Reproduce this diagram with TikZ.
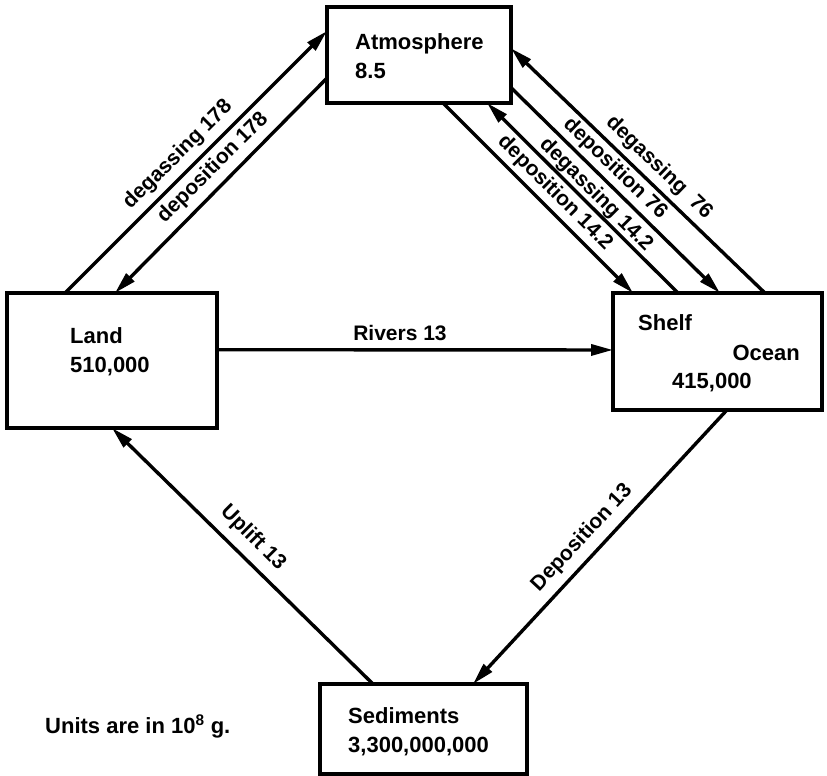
\documentclass[tikz,border=0pt]{standalone}
\usepackage{fontspec}
\setmainfont{Liberation Sans}
\usetikzlibrary{arrows.meta,calc}
\begin{document}
\begin{tikzpicture}[x=1pt,y=-1pt,
  box/.style={draw, line width=3.2pt, inner sep=0pt, outer sep=0pt, anchor=north west},
  arr/.style={line width=3.4pt, -{Triangle[length=22pt,width=11pt]}},
  txt/.style={font=\fontsize{22}{24}\selectfont\bfseries, inner sep=0pt, anchor=base west},
  lbl/.style={font=\fontsize{21}{23}\selectfont\bfseries, inner sep=0pt}]
\useasboundingbox (0,0) rectangle (827,776);
% boxes
\node[box, minimum width=184pt, minimum height=96pt] (atm) at (327,7) {};
\node[box, minimum width=210pt, minimum height=135pt] (land) at (7,293) {};
\node[box, minimum width=209pt, minimum height=117pt] (ocean) at (613,293) {};
\node[box, minimum width=207pt, minimum height=90pt] (sed) at (320,684) {};
% box texts
\node[txt] (atmA) at (355,50) {Atmosphere};
\node[txt] (atmB) at (355,78) {8.5};
\node[txt] (landA) at (70,343) {Land};
\node[txt] (landB) at (70,372) {510,000};
\node[txt] (ocA) at (638,330) {Shelf};
\node[txt, anchor=base east] (ocB) at (800,360) {Ocean};
\node[txt] (ocC) at (672,388) {415,000};
\node[txt] (sedA) at (348,723) {Sediments};
\node[txt] (sedB) at (348,752) {3,300,000,000};
\node[txt] (units) at (45,733) {Units are in 10\textsuperscript{8} g.};
% connection points
\coordinate (l1) at ($(land.north west)!0.276!(land.north east)$);
\coordinate (l2) at ($(land.north west)!0.514!(land.north east)$);
\coordinate (a1) at ($(atm.north west)!0.25!(atm.south west)$);
\coordinate (a2) at ($(atm.north west)!0.74!(atm.south west)$);
\coordinate (a3) at ($(atm.south west)!0.63!(atm.south east)$);
\coordinate (a4) at ($(atm.south west)!0.87!(atm.south east)$);
\coordinate (a5) at ($(atm.north east)!0.84!(atm.south east)$);
\coordinate (a6) at ($(atm.north east)!0.43!(atm.south east)$);
\coordinate (o3) at ($(ocean.north west)!0.096!(ocean.north east)$);
\coordinate (o4) at ($(ocean.north west)!0.311!(ocean.north east)$);
\coordinate (o5) at ($(ocean.north west)!0.512!(ocean.north east)$);
\coordinate (o6) at ($(ocean.north west)!0.727!(ocean.north east)$);
\coordinate (o7) at ($(ocean.south west)!0.545!(ocean.south east)$);
\coordinate (s1) at ($(sed.north west)!0.739!(sed.north east)$);
\coordinate (s2) at ($(sed.north west)!0.256!(sed.north east)$);
\coordinate (l3) at ($(land.south west)!0.5!(land.south east)$);
\coordinate (lr) at ($(land.north east)!0.42!(land.south east)$);
\coordinate (ol) at ($(ocean.north west)!0.487!(ocean.south west)$);
% connectors
\draw[arr] (l1) -- (a1);
\draw[arr] (a2) -- (l2);
\draw[arr] (a3) -- (o3);
\draw[arr] (o4) -- (a4);
\draw[arr] (a5) -- (o5);
\draw[arr] (o6) -- (a6);
\draw[arr] (lr) -- (ol);
\draw[arr] (o7) -- (s1);
\draw[arr] (s2) -- (l3);
% labels
\node[lbl, rotate=45] (t1) at (178,155) {degassing 178};
\node[lbl, rotate=45] (t2) at (213,168) {deposition 178};
\node[lbl, rotate=-45] (t3) at (555,193) {deposition 14.2};
\node[lbl, rotate=-45] (t4) at (596,195) {degassing 14.2};
\node[lbl, rotate=-44] (t5) at (615,169) {deposition 76};
\node[lbl, rotate=-44] (t6) at (659,168) {degassing~~76};
\node[lbl] (t7) at (400,333) {Rivers 13};
\node[lbl, rotate=47] (t8) at (582,538) {Deposition 13};
\node[lbl, rotate=-45] (t9) at (253,538) {Uplift 13};
\end{tikzpicture}
\end{document}
